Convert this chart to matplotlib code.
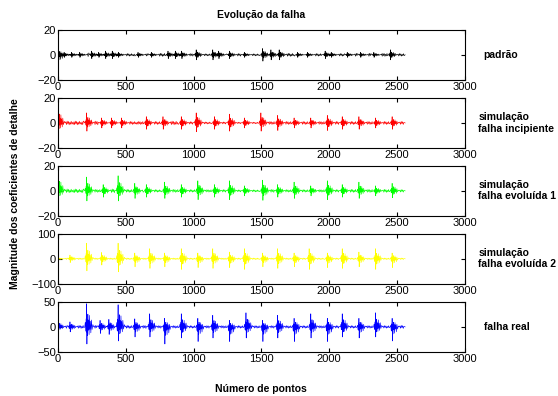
import matplotlib.pyplot as plt

plt.rcParams['font.family'] = ['Liberation Sans', 'DejaVu Sans']

n_points = 2560

# bursts: centre (sample), positive peak, negative peak, and ripple level in the gap after it
black_pos = [0, 45, 100, 160, 247, 300, 350, 400, 445, 590, 688, 811, 865, 912, 1019, 1141, 1185,
             1264, 1374, 1509, 1570, 1631, 1766, 1839, 1970, 2015, 2133, 2231, 2329, 2451]
black_up = [5, 2, 2, 2, 3, 2, 3, 3, 2, 2, 2, 3, 3, 3, 4, 4, 3, 3, 2, 5, 4, 4, 2, 2, 3, 2, 2, 2, 2, 4]
black_down = [-8, -2, -2, -2, -3, -2, -3, -3, -2, -2, -2, -3, -3, -3, -4, -4, -3, -3, -2, -5, -4, -4,
              -2, -2, -3, -2, -2, -2, -2, -4]
black_rip = [1.2, 1.2, 1.5, 1.5, 1.5, 1.5, 1.5, 1.2, 1, 1, 1.2, 1.5, 1.5, 1, 0.8, 1.2, 1.2, 1, 0.8,
             1.5, 1.5, 1.2, 1, 1, 1.2, 1, 1.2, 1.2, 1.2, 1]

red_pos = [0, 211, 321, 394, 468, 651, 774, 909, 1019, 1153, 1264, 1374, 1496, 1619, 1741, 1864,
           1986, 2096, 2219, 2341, 2464]
red_up = [13, 8, 4, 4, 4, 5, 5, 5, 8, 5, 7, 4, 8, 6, 4, 4, 6, 5, 5, 4, 5]
red_down = [-9, -6.5, -4, -4, -4, -5, -5, -5, -7, -5, -6.5, -4, -6.5, -6, -4, -4, -6, -5, -5, -4, -5]
red_rip = [1.5, 1.5, 1.5, 1.5, 1.2, 1.2, 1.5, 1, 0.8, 0.8, 0.6, 0.6, 1.2, 1.2, 1.2, 1.2, 1.2, 1.2,
           1.2, 1.2, 1.2]

green_pos = [0, 211, 333, 443, 566, 651, 786, 909, 1031, 1153, 1264, 1374, 1509, 1619, 1741, 1864,
             1986, 2096, 2219, 2341, 2464]
green_up = [14, 11, 5, 12, 6, 5, 7, 5, 8, 5, 8, 4, 8.5, 5, 7, 4, 8, 5, 7, 4, 6]
green_down = [-8, -8, -5, -8, -6, -5, -6, -5, -7, -5, -7, -4, -7.5, -5, -6, -4, -7, -5, -6, -4, -5.5]
green_rip = [1.5, 1.2, 1.5, 1.2, 1.2, 1, 1.2, 1, 1, 1, 0.8, 0.8, 1.2, 1, 1, 1, 1, 1.2, 1.2, 1.2, 1]

yellow_pos = [0, 88, 211, 321, 443, 566, 676, 786, 909, 1031, 1141, 1264, 1374, 1509, 1619, 1741,
              1852, 1986, 2096, 2219, 2341, 2464]
yellow_up = [5, 15, 62, 25, 62, 23, 40, 23, 40, 23, 40, 27, 40, 23, 40, 23, 40, 23, 40, 27, 40, 23]
yellow_down = [-5, -15, -48, -25, -52, -32, -38, -32, -42, -35, -38, -35, -42, -32, -38, -32, -42,
               -35, -38, -32, -42, -35]
yellow_rip = [3, 3, 3, 3, 3, 3, 3, 3, 3, 3, 3, 3, 3, 3, 3, 3, 3, 3, 3, 3, 3, 3]

blue_pos = [0, 88, 211, 310, 375, 443, 566, 676, 786, 909, 1031, 1141, 1264, 1386, 1509, 1619,
            1741, 1864, 1986, 2096, 2219, 2341, 2464]
blue_up = [13, 10, 46, 13, 15, 44, 16, 26, 17, 26, 17, 23, 13, 28, 13, 23, 17, 26, 17, 26, 17, 28, 17]
blue_down = [-10, -10, -34, -13, -15, -28, -20, -20, -34, -22, -29, -22, -29, -22, -29, -22, -29,
             -22, -29, -20, -22, -20, -28]
blue_rip = [3, 3, 3, 3, 3, 3, 3, 2.5, 2.5, 2.5, 2.5, 2.5, 2.5, 2.5, 2.5, 2.5, 2.5, 2.5, 2.5, 2.5,
            2.5, 2.5, 3]

# shape of one burst (offset in samples, relative size) and the small ripple between bursts
burst_off = [-14, -10, -7, -4, -2, 0, 2, 4, 7, 9, 12, 15, 18, 21, 24, 27, 31, 35, 40, 46, 52]
burst_shape = [0, 0.2, -0.25, 0.35, -0.3, 1.0, -1.0, 0.3, -0.5, 0.55, -0.2, 0.3, -0.45, 0.5, -0.15,
               0.25, -0.35, 0.3, -0.15, 0.1, 0]
ripple = [0.6, -0.9, 1.0, -0.5, 0.8, -1.0, 0.4, -0.7, 0.9, -0.6, 0.3, -0.8]
ripple_step = 5


def build(pos, up, down, rip):
    xs, ys = [], []
    for i, (p, u, d) in enumerate(zip(pos, up, down)):
        for o, s in zip(burst_off, burst_shape):
            xs.append(p + o)
            ys.append(s * u if s >= 0 else -s * d)
        end = pos[i + 1] + burst_off[0] if i + 1 < len(pos) else n_points
        x = p + burst_off[-1] + ripple_step
        k = 0
        while x < end - ripple_step:
            xs.append(x)
            ys.append(ripple[k % len(ripple)] * rip[i])
            x += ripple_step
            k += 1
    xs.append(n_points)
    ys.append(0)
    return xs, ys


panels = [
    (black_pos, black_up, black_down, black_rip, 'black', (-20, 20), [-20, 0, 20], 'padrão'),
    (red_pos, red_up, red_down, red_rip, 'red', (-20, 20), [-20, 0, 20], 'simulação\nfalha incipiente'),
    (green_pos, green_up, green_down, green_rip, '#00ff00', (-20, 20), [-20, 0, 20],
     'simulação\nfalha evoluída 1'),
    (yellow_pos, yellow_up, yellow_down, yellow_rip, '#ffff00', (-100, 100), [-100, 0, 100],
     'simulação\nfalha evoluída 2'),
    (blue_pos, blue_up, blue_down, blue_rip, 'blue', (-50, 50), [-50, 0, 50], 'falha real'),
]
bottoms = [0.798, 0.626, 0.4545, 0.283, 0.111]

fig = plt.figure(figsize=(5.58, 3.96), dpi=100)
for (pos, up, down, rip, col, ylim, yt, lab), b in zip(panels, bottoms):
    ax = fig.add_axes([0.104, b, 0.729, 0.127])
    x, y = build(pos, up, down, rip)
    ax.plot(x, y, color=col, lw=0.45)
    ax.set_xlim(0, 3000)
    ax.set_ylim(*ylim)
    ax.set_yticks(yt)
    ax.set_xticks(range(0, 3001, 500))
    ax.tick_params(direction='in', top=True, right=True, labelsize=8, length=3, pad=1.5)
    for sp in ax.spines.values():
        sp.set_linewidth(0.8)
    fig.text(0.857 if '\n' in lab else 0.867, b + 0.0635, lab, fontsize=7.5, fontweight='bold',
             va='center', ha='left', linespacing=1.15)

fig.text(0.468, 0.962, 'Evolução da falha', fontsize=7.5, fontweight='bold', ha='center', va='center')
fig.text(0.468, 0.018, 'Número de pontos', fontsize=7.5, fontweight='bold', ha='center', va='center')
fig.text(0.027, 0.51, 'Magnitude dos coeficientes de detalhe', fontsize=7.5, fontweight='bold',
         rotation=90, ha='center', va='center')

fig.savefig('out.png', dpi=100)
